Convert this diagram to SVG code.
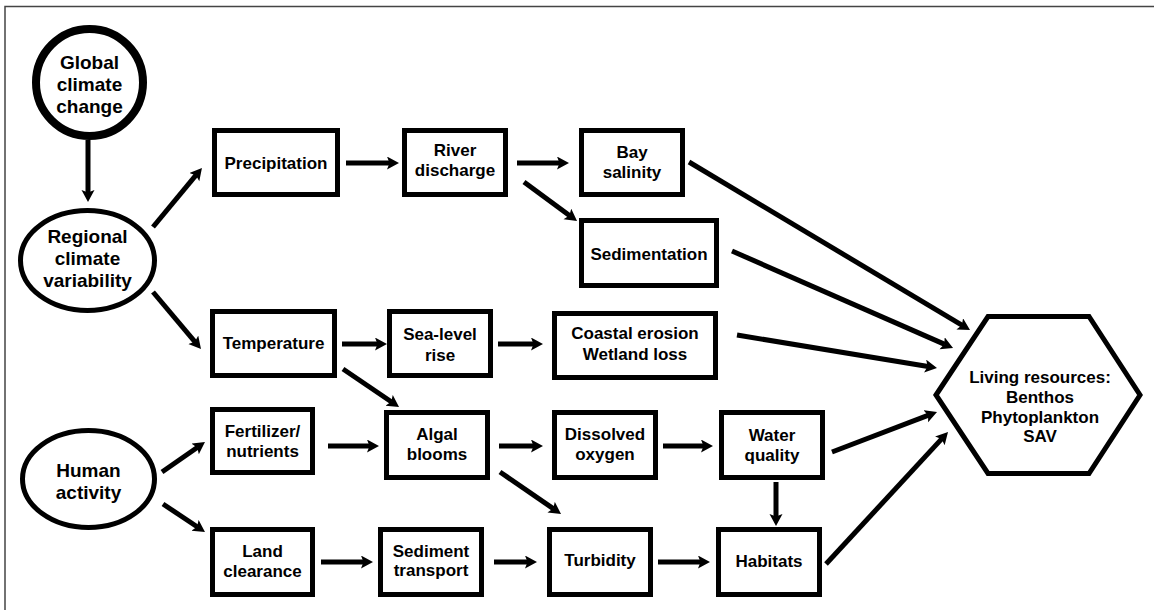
<svg xmlns="http://www.w3.org/2000/svg" width="1154" height="610" viewBox="0 0 1154 610">
<style>
.box{fill:#fff;stroke:#000;stroke-width:5}
.ell{fill:#fff;stroke:#000;stroke-width:5}
.t{font-family:"Liberation Sans",Arial,sans-serif;font-weight:bold;font-size:17px;text-anchor:middle;fill:#000}
.tb{font-size:19px}
.c{fill:none;stroke:#000;stroke-width:5;marker-end:url(#ah)}
</style>
<defs>
<marker id="ah" markerUnits="userSpaceOnUse" markerWidth="14" markerHeight="14" refX="3" refY="6.5" orient="auto" viewBox="0 0 14 14">
<path d="M0,0 L12,6.5 L0,13 L2.5,6.5 Z" fill="#000"/>
</marker>
</defs>
<rect width="1154" height="610" fill="#fff"/>
<path d="M5,610 V6.5 H1154" fill="none" stroke="#444" stroke-width="1.5"/>

<g id="connectors">
<path class="c" d="M88,140 L88,193"/>
<path class="c" d="M153,227 L196.2,174.9"/>
<path class="c" d="M153,292 L195.2,342.1"/>
<path class="c" d="M346,163 L390,163"/>
<path class="c" d="M517,163 L560,163"/>
<path class="c" d="M524,182 L569.8,215.7"/>
<path class="c" d="M689,162 L962.3,325.4"/>
<path class="c" d="M732,251 L944.8,344.4"/>
<path class="c" d="M737,335 L928.1,366.5"/>
<path class="c" d="M342,344 L378,344"/>
<path class="c" d="M498,344 L534,344"/>
<path class="c" d="M343,369 L391.6,402"/>
<path class="c" d="M162,472 L197.6,447.2"/>
<path class="c" d="M163,504 L197.5,527"/>
<path class="c" d="M328,446 L370,446"/>
<path class="c" d="M321,562 L364,562"/>
<path class="c" d="M499,446 L534,446"/>
<path class="c" d="M500,472 L553.6,508.9"/>
<path class="c" d="M663,446 L704,446"/>
<path class="c" d="M494,562 L528,562"/>
<path class="c" d="M658,562 L701,562"/>
<path class="c" d="M776,482 L776,517"/>
<path class="c" d="M832,452 L928.6,415.2"/>
<path class="c" d="M826,564 L941.9,438.6"/>
</g>

<g id="global">
<circle cx="89.5" cy="82.5" r="53.5" fill="#fff" stroke="#000" stroke-width="8"/>
<text class="t tb" x="89.5" y="69">Global</text>
<text class="t tb" x="89.5" y="91">climate</text>
<text class="t tb" x="89.5" y="113">change</text>
</g>
<g id="regional">
<ellipse class="ell" cx="87.5" cy="260.5" rx="67" ry="50"/>
<text class="t tb" x="87.5" y="243">Regional</text>
<text class="t tb" x="87.5" y="265">climate</text>
<text class="t tb" x="87.5" y="287">variability</text>
</g>
<g id="human">
<ellipse class="ell" cx="88.5" cy="479" rx="66" ry="48.5"/>
<text class="t tb" x="88.5" y="477">Human</text>
<text class="t tb" x="88.5" y="499">activity</text>
</g>

<g id="precipitation">
<rect class="box" x="214.5" y="130.5" width="123" height="64"/>
<text class="t" x="276" y="169">Precipitation</text>
</g>
<g id="river">
<rect class="box" x="404.5" y="130.5" width="101" height="64"/>
<text class="t" x="455" y="156">River</text>
<text class="t" x="455" y="176">discharge</text>
</g>
<g id="bay">
<rect class="box" x="581.5" y="130.5" width="101" height="64"/>
<text class="t" x="632" y="158">Bay</text>
<text class="t" x="632" y="178">salinity</text>
</g>
<g id="sedimentation">
<rect class="box" x="581.5" y="220.5" width="135" height="65"/>
<text class="t" x="649" y="260">Sedimentation</text>
</g>
<g id="temperature">
<rect class="box" x="212.5" y="311.5" width="122" height="64"/>
<text class="t" x="273.5" y="349">Temperature</text>
</g>
<g id="sealevel">
<rect class="box" x="389.5" y="311.5" width="101" height="64"/>
<text class="t" x="440" y="340">Sea-level</text>
<text class="t" x="440" y="361">rise</text>
</g>
<g id="coastal">
<rect class="box" x="554.5" y="313.5" width="161" height="64"/>
<text class="t" x="635" y="339">Coastal erosion</text>
<text class="t" x="635" y="360">Wetland loss</text>
</g>
<g id="fertilizer">
<rect class="box" x="212.5" y="409.5" width="100" height="63"/>
<text class="t" x="262.5" y="437">Fertilizer/</text>
<text class="t" x="262.5" y="457">nutrients</text>
</g>
<g id="algal">
<rect class="box" x="386.5" y="412.5" width="101" height="65"/>
<text class="t" x="437" y="440">Algal</text>
<text class="t" x="437" y="460">blooms</text>
</g>
<g id="dissolved">
<rect class="box" x="554.5" y="412.5" width="101" height="65"/>
<text class="t" x="605" y="440">Dissolved</text>
<text class="t" x="605" y="460">oxygen</text>
</g>
<g id="water">
<rect class="box" x="721.5" y="412.5" width="101" height="65"/>
<text class="t" x="772" y="441">Water</text>
<text class="t" x="772" y="461">quality</text>
</g>
<g id="land">
<rect class="box" x="212.5" y="529.5" width="100" height="65"/>
<text class="t" x="262.5" y="557">Land</text>
<text class="t" x="262.5" y="577">clearance</text>
</g>
<g id="sediment">
<rect class="box" x="380.5" y="529.5" width="101" height="65"/>
<text class="t" x="431" y="557">Sediment</text>
<text class="t" x="431" y="576">transport</text>
</g>
<g id="turbidity">
<rect class="box" x="549.5" y="529.5" width="101" height="65"/>
<text class="t" x="600" y="566">Turbidity</text>
</g>
<g id="habitats">
<rect class="box" x="718.5" y="529.5" width="101" height="65"/>
<text class="t" x="769" y="567">Habitats</text>
</g>
<g id="living">
<polygon points="936,395 988,316.5 1089,316.5 1140,395 1089,473.5 988,473.5" fill="#fff" stroke="#000" stroke-width="5"/>
<text class="t" x="1040" y="383">Living resources:</text>
<text class="t" x="1040" y="403">Benthos</text>
<text class="t" x="1040" y="422.5">Phytoplankton</text>
<text class="t" x="1040" y="442">SAV</text>
</g>
</svg>
